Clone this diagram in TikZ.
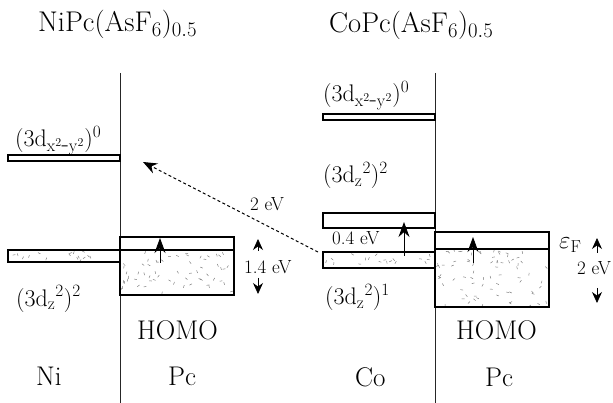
\documentclass[tikz,border=0pt]{standalone}
\usetikzlibrary{arrows.meta}
\newcommand\myspeckle[5]{%
  \foreach \k in {1,...,#5}{%
    \pgfmathsetmacro\sx{#1+2+rnd*(#3-#1-4)}%
    \pgfmathsetmacro\sy{#2+2+rnd*(#4-#2-4)}%
    \pgfmathsetmacro\sa{rnd*360}%
    \draw[speck] (\sx,\sy) -- ++(\sa:2.8);
  }}
\newcommand\titletxt{\fontsize{28.5}{32}\selectfont}
\newcommand\bigtxt{\fontsize{27}{31}\selectfont}
\newcommand\orbtxt{\fontsize{24}{28}\selectfont}
\newcommand\evtxt{\fontsize{19}{22}\selectfont}
\begin{document}
\begin{tikzpicture}[x=1pt,y=-1pt,
  txt/.style={inner sep=0pt,anchor=base west},
  level/.style={draw=black,line width=1.2pt},
  axis/.style={draw=black!85,line width=1pt},
  speck/.style={draw=black!50,line width=0.5pt},
  elarrow/.style={line width=0.8pt,-{Stealth[length=15pt,width=11pt]}},
  evarrow/.style={line width=0.8pt,-{Stealth[length=11pt,width=10pt]}},
  dasharrow/.style={line width=1pt,dash pattern=on 3pt off 2.5pt,-{Stealth[length=14pt,width=11pt]}}]
\pgfmathsetseed{11}
\useasboundingbox (0,0) rectangle (613,403);
% vertical axes
\draw[axis] (120,73) -- (120,403);
\draw[axis] (435,73) -- (435,403);
% titles
\node[txt] (tni) at (38,32) {\titletxt NiPc(AsF$_{6}$)$_{0.5}$};
\node[txt] (tco) at (329,33) {\titletxt CoPc(AsF$_{6}$)$_{0.5}$};
% Ni side
\draw[level] (8,155) rectangle (120,161);
\node[txt] (nix) at (15,147) {\orbtxt (3d$_{\mathrm{x^{2}\mbox{-}y^{2}}}$)$^{0}$};
\myspeckle{8}{250}{120}{262}{16}
\draw[level] (8,250) rectangle (120,262);
\node[txt] (niz) at (16,306) {\orbtxt (3d$_{\mathrm{z}}$$^{2}$)$^{2}$};
\myspeckle{120}{250}{234}{295}{60}
\draw[level] (120,237) rectangle (234,295);
\draw[level] (120,250) -- (234,250);
\coordinate (nia1) at (160,263);
\coordinate (nia2) at (160,238);
\draw[elarrow] (nia1) -- (nia2);
\coordinate (nie1) at (258,251);
\coordinate (nie2) at (258,239);
\coordinate (nie3) at (258,278);
\coordinate (nie4) at (258,294);
\draw[evarrow] (nie1) -- (nie2);
\draw[evarrow] (nie3) -- (nie4);
\node[txt] (nigap) at (244,274) {\evtxt 1.4 eV};
\node[txt] (nihomo) at (137,339) {\bigtxt HOMO};
\node[txt] (nini) at (36,385) {\bigtxt Ni};
\node[txt] (nipc) at (168,385) {\bigtxt Pc};
% Co side
\draw[level] (323,114) rectangle (435,120);
\node[txt] (cox) at (323,102) {\orbtxt (3d$_{\mathrm{x^{2}\mbox{-}y^{2}}}$)$^{0}$};
\node[txt] (coz2) at (323,183) {\orbtxt (3d$_{\mathrm{z}}$$^{2}$)$^{2}$};
\draw[level] (323,213) rectangle (435,228);
\myspeckle{323}{252}{435}{268}{18}
\draw[level] (323,252) rectangle (435,268);
\coordinate (coa1) at (404,256);
\coordinate (coa2) at (404,222);
\draw[elarrow] (coa1) -- (coa2);
\node[txt] (cogap) at (332,245) {\evtxt 0.4 eV};
\node[txt] (coz1) at (325,305) {\orbtxt (3d$_{\mathrm{z}}$$^{2}$)$^{1}$};
\myspeckle{435}{249}{549}{307}{75}
\draw[level] (435,232) rectangle (549,307);
\draw[level] (435,249) -- (549,249);
\coordinate (cha1) at (473,263);
\coordinate (cha2) at (473,237);
\draw[elarrow] (cha1) -- (cha2);
\node[txt] (ef) at (559,249) {\fontsize{26}{30}\selectfont$\varepsilon_{\mathrm{F}}$};
\coordinate (coe1) at (597,253);
\coordinate (coe2) at (597,238);
\coordinate (coe3) at (597,288);
\coordinate (coe4) at (597,303);
\draw[evarrow] (coe1) -- (coe2);
\draw[evarrow] (coe3) -- (coe4);
\node[txt] (cogap2) at (577,275) {\evtxt 2 eV};
\node[txt] (cohomo) at (456,339) {\bigtxt HOMO};
\node[txt] (coco) at (355,386) {\bigtxt Co};
\node[txt] (copc) at (485,386) {\bigtxt Pc};
% transfer arrow
\coordinate (ds) at (318,252);
\coordinate (de) at (143,162);
\draw[dasharrow] (ds) -- (de);
\node[txt] (dlab) at (250,211) {\evtxt 2 eV};
\end{tikzpicture}
\end{document}
